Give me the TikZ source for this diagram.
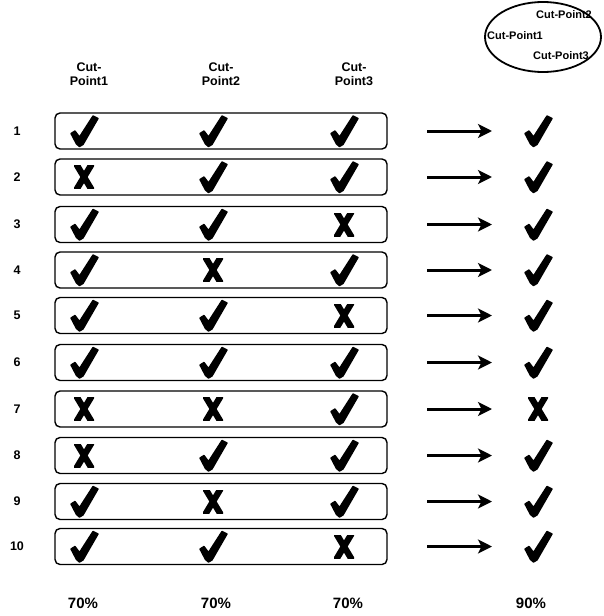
\documentclass[tikz,border=0pt]{standalone}
\usepackage{fontspec}
\setmainfont{Liberation Sans}
\usetikzlibrary{arrows.meta,shapes.geometric}
\begin{document}
\begin{tikzpicture}[x=1pt,y=-1pt,
  rowbox/.style={draw, line width=1.4pt, rounded corners=5pt, minimum width=332pt, minimum height=36pt, inner sep=0pt},
  symc/.style={inner sep=0pt, minimum width=32pt, minimum height=34pt,
    path picture={\filldraw[line width=1.4pt, line join=round]
      ([shift={(-13pt,-2.5pt)}]path picture bounding box.center) --
      ++(4pt,2.5pt) -- ++(4.5pt,-6pt) -- ++(13.5pt,21pt) -- ++(5pt,-2.5pt) --
      ++(-15pt,-26pt) -- ++(-3.5pt,-2pt) -- ++(-3pt,2.5pt) -- cycle;}},
  symx/.style={inner sep=0pt, minimum width=20pt, minimum height=23pt,
    path picture={\draw[line width=6.3pt]
      ([shift={(-9pt,15pt)}]path picture bounding box.center) -- ++(18pt,-30pt);
      \draw[line width=6.3pt]
      ([shift={(9pt,15pt)}]path picture bounding box.center) -- ++(-18pt,-30pt);}},
  hdr/.style={font=\bfseries\fontsize{12.5}{14}\selectfont, align=center, inner sep=0pt},
  rowlbl/.style={font=\bfseries\fontsize{12.5}{13}\selectfont, inner sep=0pt},
  pct/.style={font=\bfseries\fontsize{15}{16}\selectfont, inner sep=0pt},
  elltxt/.style={font=\bfseries\fontsize{11}{12}\selectfont, inner sep=0pt},
  arr/.style={line width=3pt, -{Stealth[length=14pt,width=14pt,inset=3.5pt]}}
]
\path[use as bounding box] (0,0) rectangle (603,616);
\node[hdr] (h1) at (89,74) {Cut-\\Point1};
\node[hdr] (h2) at (221,74) {Cut-\\Point2};
\node[hdr] (h3) at (354,74) {Cut-\\Point3};
\node[draw, ellipse, line width=1.8pt, minimum width=116pt, minimum height=70pt, inner sep=0pt] (ell) at (543,37) {};
\node[elltxt] (e2) at (564,15) {Cut-Point2};
\node[elltxt] (e1) at (515,36) {Cut-Point1};
\node[elltxt] (e3) at (561,56) {Cut-Point3};
\foreach \i/\y/\a/\b/\c/\o in {1/131/c/c/c/c, 2/177/x/c/c/c, 3/224.5/c/c/x/c, 4/270/c/x/c/c, 5/315.5/c/c/x/c, 6/362.5/c/c/c/c, 7/409/x/x/c/x, 8/455.5/x/c/c/c, 9/501.5/c/x/c/c, 10/546.5/c/c/x/c}{
  \node[rowlbl] (n\i) at (17,\y) {\i};
  \node[rowbox] (r\i) at (221,\y) {};
  \node[sym\a] (r\i a) at (84,\y) {};
  \node[sym\b] (r\i b) at (213,\y) {};
  \node[sym\c] (r\i c) at (344,\y) {};
  \node[sym\o] (o\i) at (538,\y) {};
  \coordinate (s\i) at (427,\y);
  \coordinate (t\i) at (492,\y);
  \draw[arr] (s\i) -- (t\i);
}
\node[pct] (p1) at (83,603) {70\%};
\node[pct] (p2) at (216,603) {70\%};
\node[pct] (p3) at (348,603) {70\%};
\node[pct] (p4) at (531,603) {90\%};
\end{tikzpicture}
\end{document}
